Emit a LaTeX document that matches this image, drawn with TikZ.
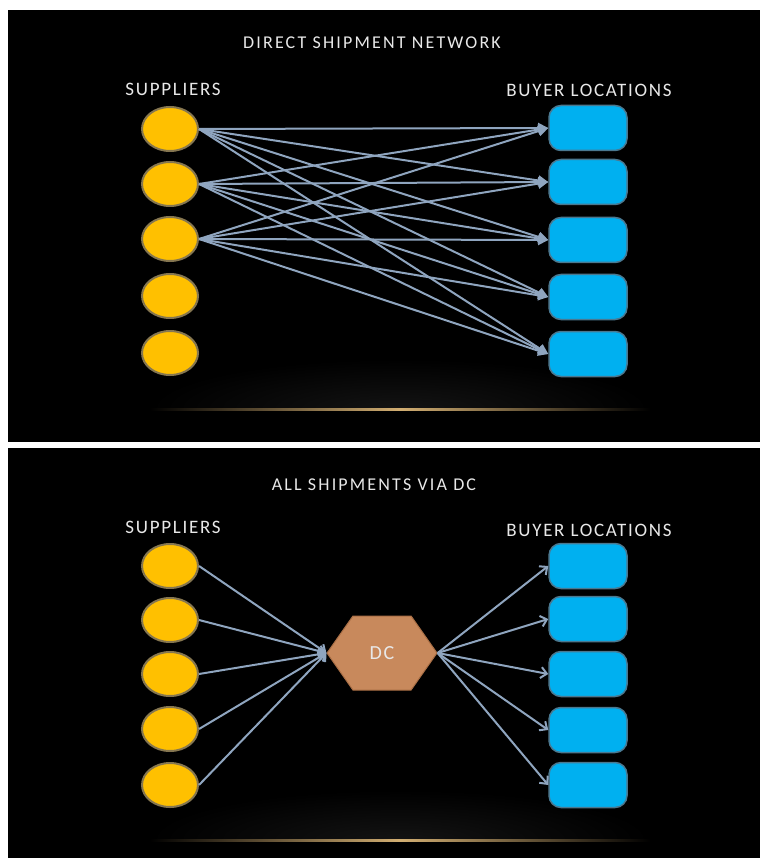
\documentclass[tikz,border=0pt]{standalone}
\usepackage{fontspec}
\setmainfont{Carlito}
\usetikzlibrary{arrows.meta,shapes.geometric,shapes.symbols}
\definecolor{sup}{HTML}{FFC000}
\definecolor{supedge}{HTML}{857650}
\definecolor{buy}{HTML}{00B0F0}
\definecolor{buyedge}{HTML}{4A7890}
\definecolor{arr}{HTML}{8FA5BF}
\definecolor{dcfill}{HTML}{C8895C}
\definecolor{dcedge}{HTML}{A86E45}
\definecolor{txt}{HTML}{E8E8E8}
\definecolor{glowc}{HTML}{D2AE72}
\definecolor{haze}{HTML}{131313}
\begin{document}
\begin{tikzpicture}[x=1pt,y=-1pt,
  supplier/.style={ellipse, fill=sup, draw=supedge, line width=2pt, minimum width=56pt, minimum height=44pt, inner sep=0pt},
  buyer/.style={rectangle, rounded corners=12pt, fill=buy, draw=buyedge, line width=1.5pt, minimum width=78pt, minimum height=45pt, inner sep=0pt},
  heading/.style={text=txt, font=\fontsize{19}{21}\selectfont\addfontfeatures{LetterSpace=9}, inner sep=0pt},
  title/.style={text=txt, font=\fontsize{18}{20}\selectfont\addfontfeatures{LetterSpace=12}, inner sep=0pt},
  flowA/.style={draw=arr, line width=2pt, -{Triangle[length=10pt,width=10pt]}},
  flowB/.style={draw=arr, line width=2pt, -{Straight Barb[length=6pt,width=11pt]}},
  hub/.style={signal, signal to=east and west, signal pointer angle=110, fill=dcfill, draw=dcedge, line width=1pt, minimum width=110pt, minimum height=74pt, inner sep=0pt, text=txt, font=\fontsize{20}{22}\selectfont\addfontfeatures{LetterSpace=8}}
]
\fill[white] (0,0) rectangle (760,858);
\fill[black] (8,10) rectangle (760,442);
\fill[black] (8,448) rectangle (760,858);

% glows
\begin{scope}
\clip (100,330) rectangle (700,409);
\shade[inner color=haze, outer color=black] (400,409) ellipse (250 and 50);
\end{scope}
\shade[left color=black, right color=black, middle color=glowc] (150,408) rectangle (650,410.5);
\begin{scope}
\clip (100,760) rectangle (700,840);
\shade[inner color=haze, outer color=black] (400,840) ellipse (250 and 50);
\end{scope}
\shade[left color=black, right color=black, middle color=glowc] (150,839) rectangle (650,841.5);

% ---- top panel ----
\node[title] (t1title) at (372,43) {DIRECT SHIPMENT NETWORK};
\node[heading] (t1sup) at (173,89) {SUPPLIERS};
\node[heading] (t1buy) at (589,90) {BUYER LOCATIONS};
\foreach \y [count=\i] in {129,184,239,296,353}
  \node[supplier] (s\i) at (170,\y) {};
\foreach \y [count=\i] in {128,182,240,297,354}
  \node[buyer] (b\i) at (588,\y) {};
\foreach \i in {1,2,3}
  \foreach \j in {1,...,5}
    \draw[flowA] (s\i.east) -- (b\j.west);

% ---- bottom panel ----
\node[title] (t2title) at (374,485) {ALL SHIPMENTS VIA DC};
\node[heading] (t2sup) at (173,527) {SUPPLIERS};
\node[heading] (t2buy) at (589,530) {BUYER LOCATIONS};
\foreach \y [count=\i] in {566,620,674,729,785}
  \node[supplier] (u\i) at (170,\y) {};
\foreach \y [count=\i] in {566,619,674,730,785}
  \node[buyer] (c\i) at (588,\y) {};
\node[hub] (dc) at (382,653) {DC};
\foreach \i in {1,...,5}
  \draw[flowB] (u\i.east) -- (dc.west);
\foreach \j in {1,...,5}
  \draw[flowB] (dc.east) -- (c\j.west);
\end{tikzpicture}
\end{document}
